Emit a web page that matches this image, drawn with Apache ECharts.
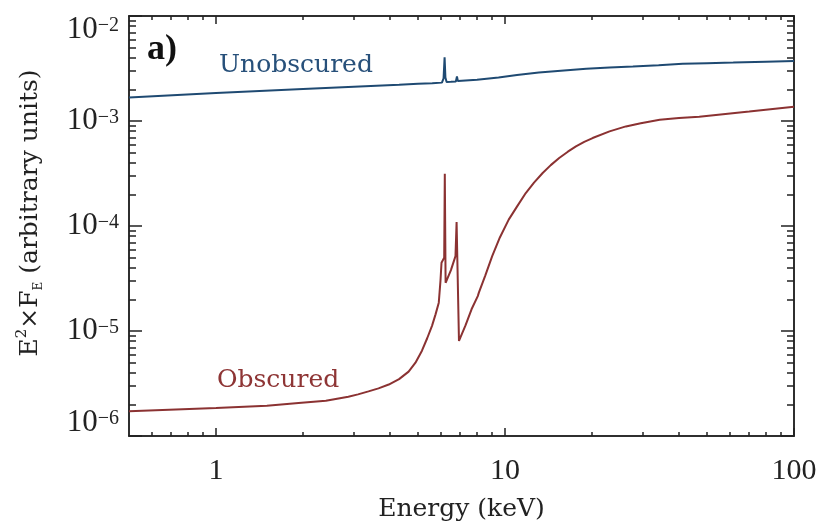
<!DOCTYPE html>
<html><head><meta charset="utf-8">
<script src="https://cdn.jsdelivr.net/npm/echarts@6/dist/echarts.min.js"></script>
<style>html,body{margin:0;padding:0;background:#fff}#c{width:823px;height:527px}</style>
</head><body><div id="c"></div>
<script>
// ---- data ----
const energyUnobscured = [0.5, 1, 2, 3, 4.3, 5, 5.6, 6.05, 6.13, 6.18, 6.22, 6.28, 6.5, 6.76, 6.82, 6.87, 6.95, 8, 9.5, 11, 13.1, 16, 19.1, 23, 27.7, 34, 41.2, 50, 61.6, 80, 100];
const fluxUnobscured   = [1.67e-3, 1.85e-3, 2.02e-3, 2.12e-3, 2.21e-3, 2.26e-3, 2.29e-3, 2.32e-3, 2.55e-3, 4.05e-3, 2.6e-3, 2.35e-3, 2.36e-3, 2.38e-3, 2.65e-3, 2.4e-3, 2.39e-3, 2.47e-3, 2.6e-3, 2.74e-3, 2.89e-3, 3.03e-3, 3.14e-3, 3.23e-3, 3.3e-3, 3.4e-3, 3.5e-3, 3.55e-3, 3.6e-3, 3.67e-3, 3.73e-3];
const energyObscured = [0.5, 1, 1.5, 1.93, 2.4, 2.87, 3.1, 3.37, 3.65, 3.96, 4.3, 4.64, 4.9, 5.16, 5.38, 5.59, 5.75, 5.9, 5.98, 6.03, 6.16, 6.19, 6.23, 6.5, 6.74, 6.8, 6.93, 7.3, 7.66, 8.05, 8.12, 8.55, 9.03, 9.6, 10.3, 11, 11.8, 12.6, 13.5, 14.4, 15.4, 16.5, 17.6, 18.8, 20.1, 23, 26.2, 29.5, 34.3, 40, 47, 70, 100];
const fluxObscured   = [1.72e-6, 1.85e-6, 1.94e-6, 2.06e-6, 2.17e-6, 2.37e-6, 2.49e-6, 2.66e-6, 2.84e-6, 3.09e-6, 3.48e-6, 4.1e-6, 4.99e-6, 6.49e-6, 8.53e-6, 1.12e-5, 1.44e-5, 1.86e-5, 3.0e-5, 4.47e-5, 5.0e-5, 3.15e-4, 2.88e-5, 3.8e-5, 5.16e-5, 1.09e-4, 8.05e-6, 1.13e-5, 1.61e-5, 2.15e-5, 2.32e-5, 3.39e-5, 5.16e-5, 7.78e-5, 1.15e-4, 1.53e-4, 2.06e-4, 2.59e-4, 3.2e-4, 3.8e-4, 4.44e-4, 5.1e-4, 5.73e-4, 6.33e-4, 6.88e-4, 7.96e-4, 8.88e-4, 9.52e-4, 1.03e-3, 1.07e-3, 1.1e-3, 1.23e-3, 1.37e-3];
const xMajorTicks = [1, 10, 100];
const xTickLabels = ['1', '10', '100'];
const yMajorTicks = [1e-6, 1e-5, 1e-4, 1e-3, 1e-2];
const yTickExponents = ['\u22126', '\u22125', '\u22124', '\u22123', '\u22122'];
const seriesNames = ['Unobscured', 'Obscured'];
const xTitle = 'Energy (keV)';
const panelLabel = 'a)';

const xMinorTicks = [];
[0.1, 1, 10].forEach(d => { for (let m = 2; m <= 9; m++) { const v = m * d; if (v > 0.5 && v < 100) xMinorTicks.push(v); } });
const yMinorTicks = [];
[1e-6, 1e-5, 1e-4, 1e-3].forEach(d => { for (let m = 2; m <= 9; m++) yMinorTicks.push(m * d); });

const axisColor = '#222';
const blue = '#1f4a72', red = '#8b3232';
const serif = 'Liberation Serif', slab = 'DejaVu Serif';

function findIdx(arr, v) { return arr.findIndex(t => Math.abs(t - v) / t < 1e-6); }

function xAx(pos, vals, len, withLabel) {
  const a = {
    type: 'log', logBase: 10, min: 0.5, max: 100, position: pos, gridIndex: 0,
    axisLine: { show: true, onZero: false, lineStyle: { color: axisColor, width: 1.5 } },
    axisTick: { show: true, inside: true, length: len, customValues: vals, lineStyle: { color: axisColor, width: 1.5 } },
    axisLabel: { show: false },
    splitLine: { show: false }, minorTick: { show: false }, minorSplitLine: { show: false }
  };
  if (withLabel) {
    a.axisLabel = {
      show: true, customValues: xMajorTicks, margin: 20,
      fontFamily: serif, fontSize: 30, color: axisColor,
      formatter: v => { const i = findIdx(xMajorTicks, v); return i >= 0 ? xTickLabels[i] : ''; }
    };
    a.name = xTitle; a.nameLocation = 'middle'; a.nameGap = 61;
    a.nameTextStyle = { fontFamily: slab, fontSize: 25, color: axisColor };
  }
  return a;
}
function yAx(pos, vals, len, withLabel) {
  const a = {
    type: 'log', logBase: 10, min: 1e-6, max: 1e-2, position: pos, gridIndex: 0,
    axisLine: { show: true, onZero: false, lineStyle: { color: axisColor, width: 1.5 } },
    axisTick: { show: true, inside: true, length: len, customValues: vals, lineStyle: { color: axisColor, width: 1.5 } },
    axisLabel: { show: false },
    splitLine: { show: false }, minorTick: { show: false }, minorSplitLine: { show: false }
  };
  if (withLabel) {
    a.axisLabel = {
      show: true, customValues: yMajorTicks, margin: 10,
      verticalAlignMinLabel: 'bottom', verticalAlignMaxLabel: 'top',
      formatter: v => { const i = findIdx(yMajorTicks, v); return i >= 0 ? '{b|10}{s|' + yTickExponents[i] + '}' : ''; },
      rich: {
        b: { fontFamily: serif, fontSize: 31, lineHeight: 27, color: axisColor },
        s: { fontFamily: serif, fontSize: 20, lineHeight: 18, color: axisColor, verticalAlign: 'top' }
      }
    };
    a.name = '{n|E}{p|2}{n|\u00d7F}{q|E}{n| (arbitrary units)}';
    a.nameLocation = 'middle'; a.nameGap = 84; a.nameRotate = 90;
    a.nameTextStyle = {
      padding: [0, 0, 0, 26],
      rich: {
        n: { fontFamily: slab, fontSize: 25, lineHeight: 30, color: axisColor },
        p: { fontFamily: slab, fontSize: 15, lineHeight: 16, color: axisColor, verticalAlign: 'top' },
        q: { fontFamily: slab, fontSize: 12, lineHeight: 12, color: axisColor, verticalAlign: 'bottom' }
      }
    };
  }
  return a;
}

const chart = echarts.init(document.getElementById('c'), null, { renderer: 'canvas' });
chart.setOption({
  animation: false,
  backgroundColor: '#fff',
  grid: { left: 129, right: 29, top: 16, bottom: 90, containLabel: false },
  xAxis: [xAx('bottom', xMajorTicks, 8, true), xAx('bottom', xMinorTicks, 4, false), xAx('top', xMajorTicks, 8, false), xAx('top', xMinorTicks, 4, false)],
  yAxis: [yAx('left', yMajorTicks, 13, true), yAx('left', yMinorTicks, 7, false), yAx('right', yMajorTicks, 13, false), yAx('right', yMinorTicks, 7, false)],
  series: [
    { name: seriesNames[0], type: 'line', xAxisIndex: 0, yAxisIndex: 0, showSymbol: false, smooth: false,
      lineStyle: { color: blue, width: 2 }, itemStyle: { color: blue },
      data: energyUnobscured.map((e, i) => [e, fluxUnobscured[i]]) },
    { name: seriesNames[1], type: 'line', xAxisIndex: 0, yAxisIndex: 0, showSymbol: false, smooth: false,
      lineStyle: { color: red, width: 2 }, itemStyle: { color: red },
      data: energyObscured.map((e, i) => [e, fluxObscured[i]]) }
  ],
  graphic: [
    { type: 'text', x: 147, y: 50, style: { text: panelLabel, fontFamily: serif, fontWeight: 'bold', fontSize: 36, fill: '#111', align: 'left', verticalAlign: 'middle' } },
    { type: 'text', x: 219, y: 65, style: { text: seriesNames[0], fontFamily: slab, fontSize: 25, fill: '#27507a', align: 'left', verticalAlign: 'middle' } },
    { type: 'text', x: 217, y: 380, style: { text: seriesNames[1], fontFamily: slab, fontSize: 25, fill: '#8e3535', align: 'left', verticalAlign: 'middle' } }
  ]
});
</script>
</body></html>
